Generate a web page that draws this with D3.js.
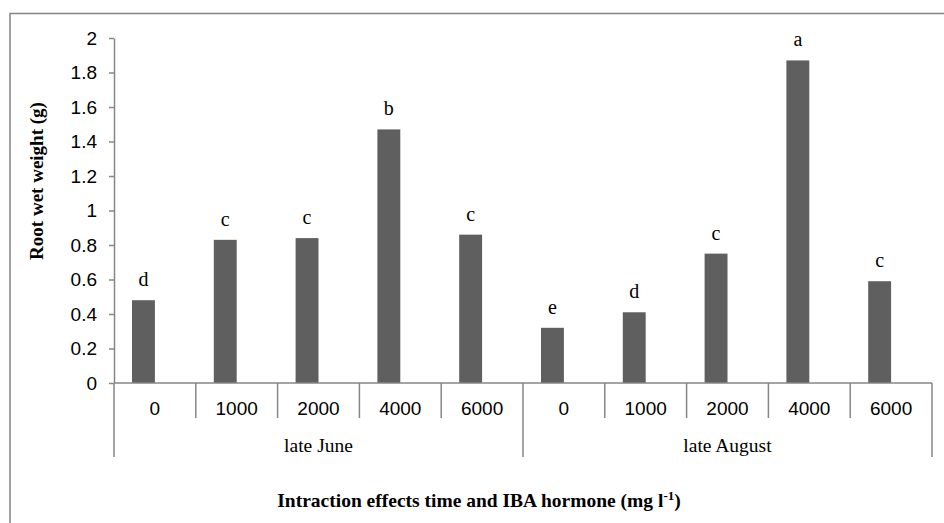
<!DOCTYPE html>
<html><head><meta charset="utf-8">
<script src="https://cdn.jsdelivr.net/npm/d3@7"></script>
<style>body{margin:0;background:#fff}svg{display:block}</style>
</head><body>
<script>
const groups = ["late June", "late August"];
const doses = ["0", "1000", "2000", "4000", "6000"];
const values = [0.48, 0.83, 0.84, 1.47, 0.86, 0.32, 0.41, 0.75, 1.87, 0.59];
const letters = ["d", "c", "c", "b", "c", "e", "d", "c", "a", "c"];
const yTicks = [0, 0.2, 0.4, 0.6, 0.8, 1, 1.2, 1.4, 1.6, 1.8, 2];
const yTitle = "Root wet weight (g)";

const W = 944, H = 523;
const svg = d3.select("body").append("svg").attr("width", W).attr("height", H);
const axisCol = "#868686";
const serif = "Liberation Serif, Times New Roman, serif";
const sans = "Liberation Sans, Arial, sans-serif";

// outer frame (cut at right/bottom)
svg.append("rect").attr("x", 10).attr("y", 13.5).attr("width", 1200).attr("height", 1200)
  .attr("fill", "none").attr("stroke", "#8a8a8a").attr("stroke-width", 1.6);

const cats = d3.range(groups.length * doses.length);
const x = d3.scaleBand().domain(cats).range([114, 932]).padding(0);
const y = d3.scaleLinear().domain([0, 2]).range([383, 38]);
const bw = x.bandwidth();
const barW = bw * 0.28;

// bars
svg.append("g").selectAll("rect").data(values).join("rect")
  .attr("x", (d, i) => x(i) + bw / 2 - barW)
  .attr("width", barW)
  .attr("y", d => y(d))
  .attr("height", d => y(0) - y(d))
  .attr("fill", "#5f5f5f");

// letters
svg.append("g").selectAll("text").data(values).join("text")
  .attr("x", (d, i) => x(i) + bw / 2 - barW / 2)
  .attr("y", d => y(d) - 14)
  .attr("text-anchor", "middle")
  .attr("font-family", serif)
  .attr("font-size", 20)
  .text((d, i) => letters[i]);

// y axis
const ya = svg.append("g").attr("transform", "translate(114,0)")
  .call(d3.axisLeft(y).tickValues(yTicks).tickSize(5).tickSizeOuter(0).tickPadding(12)
    .tickFormat(d => d3.format("")(+d.toFixed(1))));
ya.select(".domain").attr("stroke", axisCol).attr("stroke-width", 1.5);
ya.selectAll(".tick line").attr("stroke", axisCol).attr("stroke-width", 1.5);
ya.selectAll(".tick text").attr("font-family", sans)
  .attr("font-size", 19).attr("fill", "#000");

// x baseline
const xa = svg.append("g");
xa.append("line").attr("x1", 114).attr("x2", 932).attr("y1", y(0)).attr("y2", y(0))
  .attr("stroke", axisCol).attr("stroke-width", 1.5);

// separators
const sepIdx = d3.range(cats.length + 1);
const sepX = i => i < cats.length ? x(i) : x(cats.length - 1) + bw;
xa.selectAll("line.sep").data(sepIdx).join("line").attr("class", "sep")
  .attr("x1", sepX).attr("x2", sepX)
  .attr("y1", y(0))
  .attr("y2", i => i % doses.length === 0 ? 457 : 418)
  .attr("stroke", axisCol).attr("stroke-width", 1.5);

// dose labels
xa.selectAll("text.dose").data(cats).join("text").attr("class", "dose")
  .attr("x", i => x(i) + bw / 2)
  .attr("y", 415)
  .attr("text-anchor", "middle")
  .attr("font-family", sans)
  .attr("font-size", 19)
  .text(i => doses[i % doses.length]);

// group labels
xa.selectAll("text.grp").data(groups).join("text").attr("class", "grp")
  .attr("x", (g, k) => (x(k * doses.length) + x(k * doses.length + doses.length - 1) + bw) / 2)
  .attr("y", 452)
  .attr("text-anchor", "middle")
  .attr("font-family", serif)
  .attr("font-size", 19.5)
  .text(g => g);

// x title
const xt = svg.append("text").attr("x", 479).attr("y", 507)
  .attr("text-anchor", "middle")
  .attr("font-family", serif)
  .attr("font-weight", "bold").attr("font-size", 19.5);
xt.append("tspan").text("Intraction effects time and IBA hormone (mg l");
xt.append("tspan").attr("font-size", 13).attr("dy", -7).text("-1");
xt.append("tspan").attr("dy", 7).text(")");

// y title
svg.append("text").attr("transform", "translate(43,181) rotate(-90)")
  .attr("text-anchor", "middle")
  .attr("font-family", serif)
  .attr("font-weight", "bold").attr("font-size", 19)
  .text(yTitle);
</script>
</body></html>
